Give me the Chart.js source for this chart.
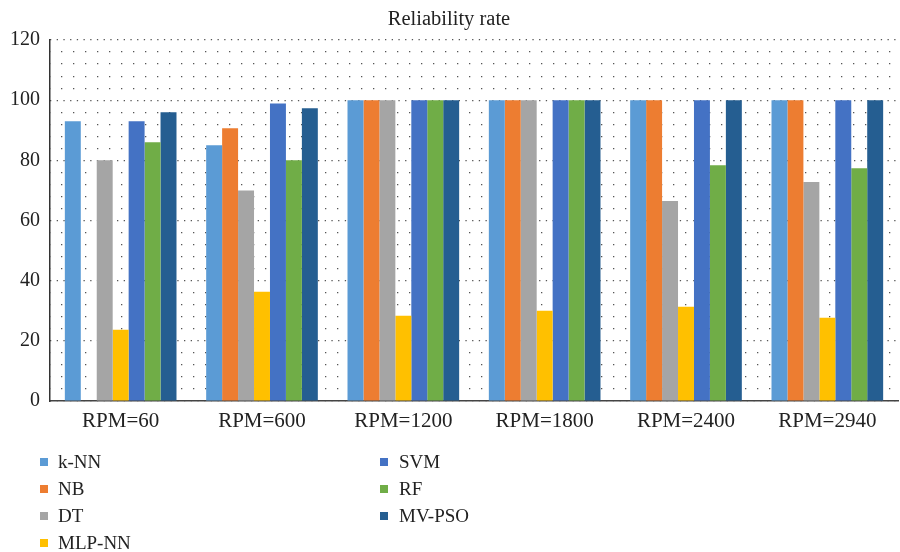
<!DOCTYPE html>
<html>
<head>
<meta charset="utf-8">
<script src="https://cdn.jsdelivr.net/npm/chart.js@4/dist/chart.umd.min.js"></script>
<style>
  html, body { margin: 0; padding: 0; background: #fff; }
  #wrap { width: 900px; height: 552px; position: relative; }
</style>
</head>
<body>
<div id="wrap"><canvas id="c" width="900" height="552"></canvas></div>
<script>
// Reliability rate (%) per classifier at each rotation speed
const categories = ['RPM=60', 'RPM=600', 'RPM=1200', 'RPM=1800', 'RPM=2400', 'RPM=2940'];
const seriesNames = ['k-NN', 'NB', 'DT', 'MLP-NN', 'SVM', 'RF', 'MV-PSO'];
const knn   = [93, 85, 100, 100, 100, 100];
const nb    = [0, 90.7, 100, 100, 100, 100];
const dt    = [80, 70, 100, 100, 66.5, 72.8];
const mlpnn = [23.7, 36.3, 28.3, 30, 31.3, 27.7];
const svm   = [93, 98.9, 100, 100, 100, 100];
const rf    = [86, 80, 100, 100, 78.4, 77.4];
const mvpso = [96, 97.3, 100, 100, 100, 100];
const yTicks = [0, 20, 40, 60, 80, 100, 120];

const seriesValues = [knn, nb, dt, mlpnn, svm, rf, mvpso];
const seriesColors = ['#5B9BD5', '#ED7D31', '#A5A5A5', '#FFC000', '#4472C4', '#70AD47', '#255E91'];

const FONT = "'Liberation Serif', 'DejaVu Serif', serif";

// Two-column legend drawn under the plot
const legendPlugin = {
  id: 'columnLegend',
  afterDraw(chart) {
    const ctx = chart.ctx;
    const cols = [{ sq: 40, tx: 58 }, { sq: 380, tx: 399 }];
    const rowsY = [462, 489, 516, 543];
    ctx.save();
    ctx.font = '19px ' + FONT;
    ctx.textBaseline = 'middle';
    chart.data.datasets.forEach((ds, i) => {
      const col = i < 4 ? cols[0] : cols[1];
      const y = rowsY[i < 4 ? i : i - 4];
      ctx.fillStyle = ds.backgroundColor;
      ctx.fillRect(col.sq, y - 4, 8, 8);
      ctx.fillStyle = '#222';
      ctx.fillText(ds.label, col.tx, y + 1);
    });
    ctx.restore();
  }
};

new Chart(document.getElementById('c'), {
  type: 'bar',
  data: {
    labels: categories,
    datasets: seriesNames.map((name, i) => ({
      label: name,
      data: seriesValues[i],
      backgroundColor: seriesColors[i],
      borderWidth: 0,
      categoryPercentage: 0.79,
      barPercentage: 1.0
    }))
  },
  options: {
    responsive: false,
    animation: false,
    layout: { padding: { left: 0, right: 2, top: 0, bottom: 111 } },
    plugins: {
      legend: { display: false },
      tooltip: { enabled: false },
      title: {
        display: true,
        text: 'Reliability rate',
        color: '#222',
        font: { family: FONT, size: 20.5, weight: 'normal', lineHeight: 1.2 },
        padding: { top: 7, bottom: 8.4 }
      }
    },
    scales: {
      x: {
        grid: { display: false, drawTicks: false },
        border: { display: true, color: '#444', width: 1.5 },
        ticks: { color: '#222', font: { family: FONT, size: 21 }, padding: 8 },
        afterFit(s) { s.height = 40; }
      },
      // major gridlines every 20, with the value labels
      y: {
        weight: 2,
        min: 0, max: 120,
        afterBuildTicks(s) { s.ticks = yTicks.map(v => ({ value: v })); },
        grid: { color: '#555', lineWidth: 1.2, drawTicks: false },
        border: { display: false, dash: [1.3, 5.4] },
        ticks: { color: '#222', font: { family: FONT, size: 20 }, padding: 10 },
        afterFit(s) { s.width = 50; }
      },
      // minor gridlines every 4, sparser dots
      yMinor: {
        weight: 1,
        position: 'left',
        min: 0, max: 120,
        ticks: { display: false, stepSize: 4 },
        grid: {
          color: ctx => (ctx.tick && ctx.tick.value % 20 === 0) ? 'rgba(0,0,0,0)' : '#555',
          lineWidth: 1.2,
          drawTicks: false
        },
        border: { display: false, dash: [1.3, 10.7], dashOffset: -11 },
        afterFit(s) { s.width = 0; }
      },
      // solid vertical axis line
      yLine: {
        weight: 0,
        position: 'left',
        min: 0, max: 120,
        ticks: { display: false },
        grid: { display: false, drawTicks: false },
        border: { display: true, color: '#333', width: 1.5 },
        afterFit(s) { s.width = 0; }
      }
    }
  },
  plugins: [legendPlugin]
});
</script>
</body>
</html>
